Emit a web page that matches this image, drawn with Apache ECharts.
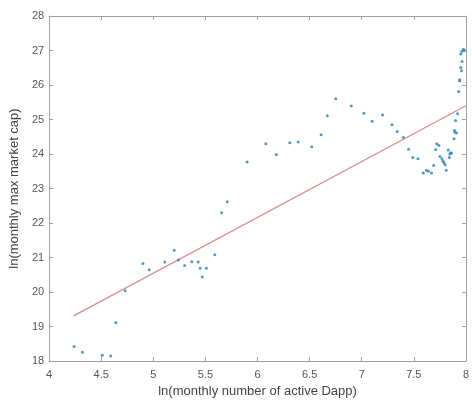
<!DOCTYPE html>
<html>
<head>
<meta charset="utf-8">
<script src="https://cdn.jsdelivr.net/npm/echarts@6/dist/echarts.min.js"></script>
<style>
  html, body { margin: 0; padding: 0; background: #fff; }
  #chart { width: 472px; height: 403px; }
</style>
</head>
<body>
<div id="chart"></div>
<script>
// ln(active dapps), ln(max market cap)
var dotsX = [4.24, 4.32, 4.51, 4.59, 4.64, 4.73, 4.90, 4.96, 5.11, 5.20, 5.24, 5.30, 5.37, 5.43, 5.45, 5.51, 5.47,
  5.59, 5.655, 5.71, 5.90, 6.08, 6.18, 6.31, 6.39, 6.52, 6.61, 6.67, 6.75, 6.90, 7.02, 7.10, 7.20, 7.29, 7.34,
  7.40, 7.45, 7.49, 7.54, 7.59, 7.62, 7.64, 7.67, 7.69, 7.71, 7.72, 7.74, 7.75, 7.77, 7.78, 7.79, 7.80, 7.81,
  7.83, 7.845, 7.855, 7.86, 7.84, 7.885, 7.895, 7.89, 7.91, 7.90, 7.92, 7.93, 7.94, 7.94, 7.957, 7.95, 7.963,
  7.95, 7.96, 7.976, 7.985];
var dotsY = [18.42, 18.26, 18.17, 18.15, 19.12, 20.04, 20.83, 20.65, 20.87, 21.21, 20.93, 20.77, 20.88, 20.87, 20.69, 20.69, 20.44,
  21.08, 22.30, 22.62, 23.77, 24.30, 23.99, 24.33, 24.35, 24.21, 24.56, 25.11, 25.60, 25.39, 25.18, 24.95, 25.13, 24.85, 24.65,
  24.48, 24.14, 23.90, 23.86, 23.45, 23.53, 23.50, 23.45, 23.67, 24.13, 24.30, 24.25, 23.93, 23.86, 23.79, 23.75, 23.69, 23.53,
  24.12, 24.00, 24.04, 24.02, 23.90, 24.44, 24.63, 24.68, 24.61, 24.97, 25.17, 25.81, 26.15, 26.12, 26.41, 26.51, 26.68,
  26.90, 26.97, 27.04, 27.00];
// fitted line endpoints
var fitX = [4.235, 8];
var fitY = [19.31, 25.40];

var xTicks = [4, 4.5, 5, 5.5, 6, 6.5, 7, 7.5, 8];
var yTicks = [18, 19, 20, 21, 22, 23, 24, 25, 26, 27, 28];

var dots = dotsX.map(function (x, i) { return [x, dotsY[i]]; });
var fit = fitX.map(function (x, i) { return [x, fitY[i]]; });

var axisGrey = '#a0a0a0';
var textGrey = '#555';
var font = '"Liberation Sans", Arial, sans-serif';

function xAx(pos, showLabel) {
  return {
    type: 'value', position: pos, min: 4, max: 8, interval: 0.5,
    axisLine: { show: true, onZero: false, lineStyle: { color: axisGrey, width: 1 } },
    axisTick: { show: true, inside: true, length: 4, lineStyle: { color: axisGrey } },
    axisLabel: { show: showLabel, color: textGrey, fontSize: 11, fontFamily: font, margin: 8 },
    splitLine: { show: false },
    name: showLabel ? 'ln(monthly number of active Dapp)' : '',
    nameLocation: 'middle', nameGap: 22,
    nameTextStyle: { color: '#444', fontSize: 13, fontFamily: font }
  };
}
function yAx(pos, showLabel) {
  return {
    type: 'value', position: pos, min: 18, max: 28, interval: 1,
    axisLine: { show: true, onZero: false, lineStyle: { color: axisGrey, width: 1 } },
    axisTick: { show: true, inside: true, length: 4, lineStyle: { color: axisGrey } },
    axisLabel: { show: showLabel, color: textGrey, fontSize: 11, fontFamily: font, margin: 5 },
    splitLine: { show: false },
    name: showLabel ? 'ln(monthly max market cap)' : '',
    nameLocation: 'middle', nameGap: 24,
    nameTextStyle: { color: '#444', fontSize: 13, fontFamily: font }
  };
}

var chart = echarts.init(document.getElementById('chart'));
chart.setOption({
  animation: false,
  backgroundColor: '#fff',
  grid: { left: 49, right: 2, top: 16, bottom: 41 },
  xAxis: [xAx('bottom', true), xAx('top', false)],
  yAxis: [yAx('left', true), yAx('right', false)],
  series: [
    {
      type: 'line',
      data: fit,
      showSymbol: false,
      lineStyle: { color: '#d98a8c', width: 1.2 },
      z: 2
    },
    {
      type: 'scatter',
      data: dots,
      symbolSize: 3,
      itemStyle: { color: '#2a7fb0' },
      z: 3
    }
  ]
});
</script>
</body>
</html>
